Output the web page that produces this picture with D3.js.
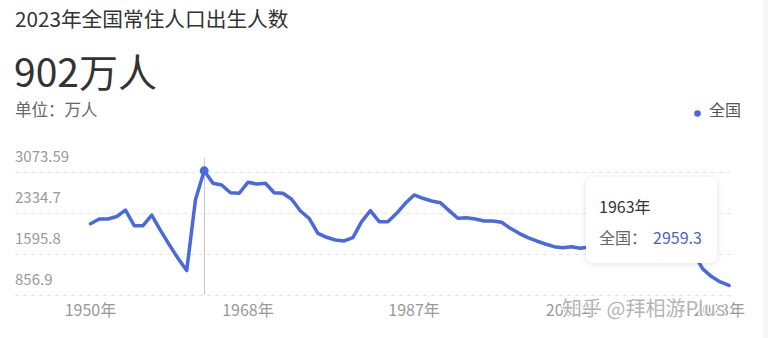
<!DOCTYPE html>
<html>
<head>
<meta charset="utf-8">
<script src="https://cdn.jsdelivr.net/npm/d3@7"></script>
<style>
  body { margin: 0; background: #fff; }
  svg { display: block; font-family: "Noto Sans CJK SC", "Noto Sans", sans-serif; }
</style>
</head>
<body>
<svg id="chart" width="768" height="338"></svg>
<script>
// years 1950..2023 and births (万人)
var years = d3.range(1950, 2024);
var births = [
  2010, 2095, 2095, 2140, 2255, 1975, 1975, 2165, 1890, 1635,
  1390, 1170, 2440, 2959.3, 2736, 2706, 2567, 2557, 2754, 2724,
  2736, 2567, 2557, 2449, 2239, 2108, 1838, 1767, 1719, 1701,
  1760, 2047, 2245, 2047, 2047, 2198, 2377, 2527, 2467, 2418,
  2388, 2245, 2108, 2119, 2095, 2060, 2060, 2036, 1928, 1838,
  1760, 1701, 1647, 1599, 1581, 1599, 1570, 1594, 1608, 1591,
  1592, 1604, 1635, 1640, 1687, 1655, 1786, 1723, 1523, 1465,
  1200, 1062, 965, 902
];
var yTicks = [856.9, 1595.8, 2334.7, 3073.59];
var yTickLabels = ["856.9", "1595.8", "2334.7", "3073.59"];
var xTicks = [1950, 1968, 1987, 2005, 2023];
var hoverYear = 1963;

var lineColor = "#4a69dd";

var svg = d3.select("#chart");

var x = d3.scaleLinear().domain([1950, 2023]).range([90.5, 729]);
var y = d3.scaleLinear().domain([856.9, 3073.59]).range([288, 164.5]);

var data = years.map(function (yr, i) { return { year: yr, value: births[i] }; });

// right edge strip
svg.append("rect").attr("x", 763).attr("y", 0).attr("width", 5).attr("height", 338)
    .attr("fill", "#f6f6f6");

/* header */
svg.append("text").attr("x", 15).attr("y", 27)
    .attr("font-size", 20.7).attr("fill", "#333")
    .text("2023年全国常住人口出生人数");
svg.append("text").attr("x", 14).attr("y", 87)
    .attr("font-size", 39).attr("fill", "#333")
    .text("902万人");
svg.append("text").attr("x", 15).attr("y", 116)
    .attr("font-size", 16.5).attr("fill", "#666")
    .text("单位：万人");

// legend
svg.append("circle").attr("cx", 697.5).attr("cy", 113.5).attr("r", 3.3).attr("fill", lineColor);
svg.append("text").attr("x", 709).attr("y", 116)
    .attr("font-size", 16).attr("fill", "#555")
    .text("全国");

/* grid + y labels */
svg.selectAll(".grid").data(yTicks).enter().append("line")
    .attr("class", "grid")
    .attr("x1", 15).attr("x2", 733)
    .attr("y1", function (d) { return Math.round(y(d) + 7) + 0.5; })
    .attr("y2", function (d) { return Math.round(y(d) + 7) + 0.5; })
    .attr("stroke", "#e6e6e6")
    .attr("stroke-dasharray", "4,4");

svg.selectAll(".ylab").data(yTicks).enter().append("text")
    .attr("class", "ylab")
    .attr("x", 15)
    .attr("y", function (d) { return y(d) - 3; })
    .attr("font-size", 15).attr("fill", "#999")
    .text(function (d, i) { return yTickLabels[i]; });

// x labels
svg.selectAll(".xlab").data(xTicks).enter().append("text")
    .attr("class", "xlab")
    .attr("x", function (d) { return d === 2023 ? 745 : x(d); })
    .attr("y", 316)
    .attr("text-anchor", function (d) { return d === 2023 ? "end" : "middle"; })
    .attr("font-size", 16).attr("fill", "#999")
    .text(function (d) { return d + "年"; });

// crosshair
svg.append("line")
    .attr("x1", Math.round(x(hoverYear)) + 0.5).attr("x2", Math.round(x(hoverYear)) + 0.5)
    .attr("y1", 158).attr("y2", 295)
    .attr("stroke", "#c8c8c8").attr("stroke-width", 1);

/* line */
var valueline = d3.line()
    .x(function (d) { return x(d.year); })
    .y(function (d) { return y(d.value); });

svg.append("path").datum(data)
    .attr("d", valueline)
    .attr("fill", "none")
    .attr("stroke", lineColor)
    .attr("stroke-width", 3.5)
    .attr("stroke-linejoin", "round")
    .attr("stroke-linecap", "round");

var hov = data.filter(function (d) { return d.year === hoverYear; })[0];
svg.append("circle")
    .attr("cx", x(hov.year)).attr("cy", y(hov.value)).attr("r", 4.5)
    .attr("fill", lineColor);

/* tooltip */
var defs = svg.append("defs");
var f = defs.append("filter").attr("id", "shadow")
    .attr("x", "-20%").attr("y", "-20%").attr("width", "140%").attr("height", "140%");
f.append("feDropShadow").attr("dx", 0).attr("dy", 1).attr("stdDeviation", 3)
    .attr("flood-color", "#000").attr("flood-opacity", 0.12);

var tip = svg.append("g");
tip.append("rect").attr("x", 586).attr("y", 177).attr("width", 131).attr("height", 86)
    .attr("rx", 8).attr("fill", "#fff").attr("filter", "url(#shadow)");
tip.append("text").attr("x", 599).attr("y", 213)
    .attr("font-size", 16).attr("fill", "#333")
    .text(hov.year + "年");
tip.append("text").attr("x", 599).attr("y", 244)
    .attr("font-size", 16).attr("fill", "#666")
    .text("全国：");
tip.append("text").attr("x", 653).attr("y", 244)
    .attr("font-size", 16).attr("fill", "#4b62c4")
    .text(hov.value);

// watermark
svg.append("text").attr("x", 562).attr("y", 316)
    .attr("font-size", 20).attr("fill", "#a0a0a0").attr("fill-opacity", 0.8)
    .attr("stroke", "#fff").attr("stroke-width", 3).attr("stroke-opacity", 0.85)
    .attr("paint-order", "stroke")
    .text("知乎 @拜相游Plus");
</script>
</body>
</html>
